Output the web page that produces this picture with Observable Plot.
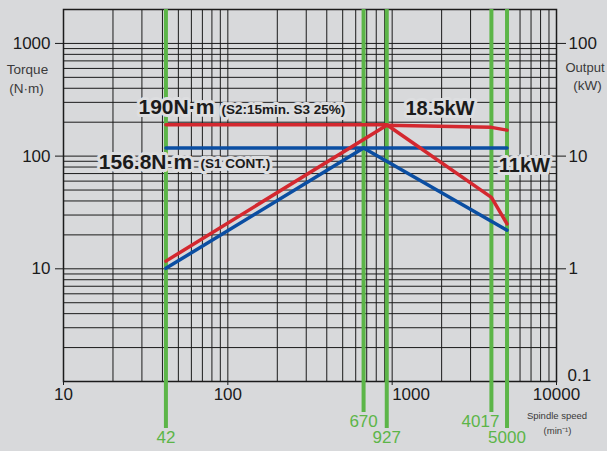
<!DOCTYPE html>
<html><head><meta charset="utf-8">
<script src="https://cdn.jsdelivr.net/npm/d3@7"></script>
<script src="https://cdn.jsdelivr.net/npm/@observablehq/plot@0.6"></script>
<style>
html,body{margin:0;padding:0;background:#d8d9db;}
#chart svg{display:block;}
</style></head><body><div id="chart"></div>
<script>
// S2 (15 min, S3 25%) rating — red
const speedS2 = [42, 927, 4017, 5000];
const torqueS2 = [190, 190, 43, 25];     // N·m
const outputS2 = [1.17, 18.8, 18.0, 17.0]; // kW
// S1 continuous rating — blue
const speedS1 = [42, 670, 5000];
const torqueS1 = [118, 118, 22];
const outputS1 = [1.01, 11.8, 11.8];
// marked speeds (green)
const markedSpeeds = [42, 670, 927, 4017, 5000];
const markedLow = [670, 4017]; // labels on the upper row
// axis ticks
const xTicks = [10, 100, 1000, 10000];
const torqueTicks = [10, 100, 1000];
const outputTicks = [0.1, 1, 10, 100];
const KW_TO_SCALE = 10; // 1 kW sits at the 10 N·m position of the shared log scale

const BG = "#d8d9db", INK = "#1b1b1b";
const RED = "#d4282f", BLUE = "#0b4ea2", GREEN = "#5cb548";
const FONT = "'Liberation Sans', Arial, Helvetica, sans-serif";

const rows = (xs, ys, k = 1) => xs.map((s, i) => ({speed: s, value: ys[i] * k}));
const s2T = rows(speedS2, torqueS2), s2P = rows(speedS2, outputS2, KW_TO_SCALE);
const s1T = rows(speedS1, torqueS1), s1P = rows(speedS1, outputS1, KW_TO_SCALE);

const longLines = markedSpeeds.filter(d => !markedLow.includes(d));
const lineOpts = (c) => ({x: "speed", y: "value", stroke: c, strokeWidth: 3.5, strokeLinejoin: "miter"});
const halo = {stroke: "#dddee0", strokeWidth: 6, fill: INK, fontWeight: "bold", textAnchor: "start"};
const titleOpts = {fontSize: 13.5, fill: "#3a3a3a", textAnchor: "middle"};

const chart = Plot.plot({
  width: 607, height: 451,
  marginLeft: 63, marginRight: 51, marginTop: 9, marginBottom: 70,
  style: {background: BG, fontFamily: FONT, color: INK, overflow: "visible"},
  x: {type: "log", domain: [10, 10000]},
  y: {type: "log", domain: [1, 2000]},
  marks: [
    Plot.gridX({stroke: INK, strokeOpacity: 1, strokeWidth: 1}),
    Plot.gridY({stroke: INK, strokeOpacity: 1, strokeWidth: 1}),
    Plot.frame({stroke: INK, strokeWidth: 1.5}),
    Plot.ruleX(longLines, {x: d => d, stroke: GREEN, strokeWidth: 4, insetBottom: -47}),
    Plot.ruleX(markedLow, {x: d => d, stroke: GREEN, strokeWidth: 4, insetBottom: -31}),
    Plot.line(s1T, lineOpts(BLUE)),
    Plot.line(s1P, lineOpts(BLUE)),
    Plot.line(s2T, lineOpts(RED)),
    Plot.line(s2P, lineOpts(RED)),
    // green speed labels
    Plot.text(longLines, {x: d => d, text: d => String(d), frameAnchor: "bottom", dy: 61, fill: GREEN, fontSize: 17}),
    Plot.text(markedLow.filter(d => d !== 4017), {x: d => d, text: d => String(d), frameAnchor: "bottom", dy: 45, fill: GREEN, fontSize: 17}),
    Plot.text([4017], {x: d => d, text: d => String(d), frameAnchor: "bottom", dy: 45, dx: 8, textAnchor: "end", fill: GREEN, fontSize: 17}),
    // axes
    Plot.axisX(xTicks, {tickSize: 4, tickFormat: () => "", label: null, stroke: INK}),
    Plot.text(xTicks.filter(d => d !== 1000), {x: d => d, text: d => String(d), frameAnchor: "bottom", dy: 18, fontSize: 17, fill: INK}),
    Plot.text([1000], {x: d => d, text: d => String(d), frameAnchor: "bottom", dy: 18, textAnchor: "start", fontSize: 17, fill: INK}),
    Plot.axisY(torqueTicks, {anchor: "left", tickSize: 8, tickPadding: 5, fontSize: 17, label: null, stroke: INK, fill: INK, tickFormat: d => String(d)}),
    Plot.axisY(outputTicks.filter(d => d >= 1).map(d => d * KW_TO_SCALE), {anchor: "right", tickSize: 9, tickPadding: 3, fontSize: 17, label: null, stroke: INK, fill: INK, tickFormat: d => String(d / KW_TO_SCALE)}),
    Plot.axisY(outputTicks.filter(d => d < 1).map(d => d * KW_TO_SCALE), {anchor: "right", tickSize: 0, tickPadding: 11, dy: -6, fontSize: 17, label: null, fill: INK, tickFormat: d => String(d / KW_TO_SCALE)}),
    // axis titles
    Plot.text(["Torque"], {frameAnchor: "top-left", dx: -36, dy: 55, ...titleOpts}),
    Plot.text(["(N·m)"], {frameAnchor: "top-left", dx: -37, dy: 74, ...titleOpts}),
    Plot.text(["Output"], {frameAnchor: "top-right", dx: 9, dy: 53, ...titleOpts, fontSize: 13, textAnchor: "start"}),
    Plot.text(["(kW)"], {frameAnchor: "top-right", dx: 31, dy: 71, ...titleOpts}),
    Plot.text(["Spindle speed"], {frameAnchor: "bottom-right", dx: 0.5, dy: 37, ...titleOpts, fontSize: 9.5}),
    Plot.text(["(min⁻¹)"], {frameAnchor: "bottom-right", dx: 1, dy: 52, ...titleOpts, fontSize: 9.5}),
    // annotations
    Plot.text(["190N·m"], {x: 28.6, y: 271, fontSize: 21, ...halo}),
    Plot.text(["(S2:15min. S3 25%)"], {x: 91.5, y: 259, fontSize: 13.5, ...halo}),
    Plot.text(["156.8N·m"], {x: 16.4, y: 88.3, fontSize: 21, ...halo}),
    Plot.text(["(S1 CONT.)"], {x: 68.2, y: 86, fontSize: 13.5, ...halo}),
    Plot.text(["18.5kW"], {x: 1205, y: 263, fontSize: 20, ...halo}),
    Plot.text(["11kW"], {x: 4456, y: 82.5, fontSize: 20, ...halo})
  ]
});
document.getElementById("chart").appendChild(chart);
</script>
</body></html>
